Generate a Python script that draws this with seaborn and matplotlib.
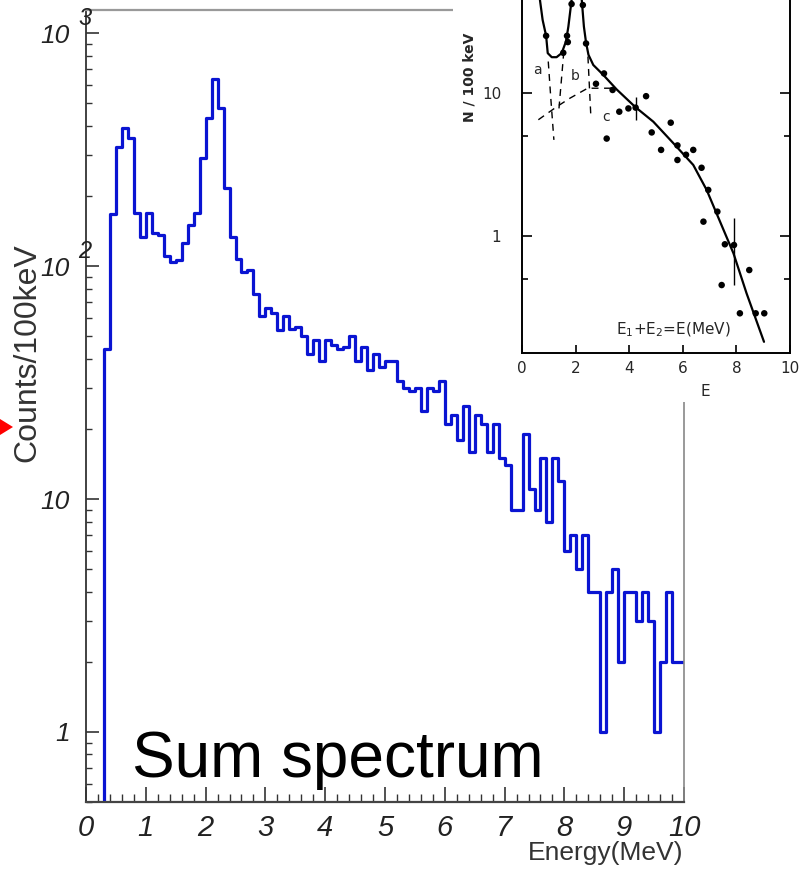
import numpy as np
import pandas as pd
import matplotlib
matplotlib.use('Agg')
import matplotlib.pyplot as plt
import matplotlib.transforms as mtransforms
import seaborn as sns
from matplotlib import font_manager
from matplotlib.patches import Rectangle, Polygon
from matplotlib.ticker import FixedLocator, NullFormatter, NullLocator

sns.set_style('ticks')
plt.rcParams['font.family'] = ['Liberation Sans', 'DejaVu Sans']
plt.rcParams['axes.unicode_minus'] = False

names = {f.name for f in font_manager.fontManager.ttflist}
narrow = 'Liberation Sans Narrow' if 'Liberation Sans Narrow' in names else 'Liberation Sans'

# sum spectrum: counts per 100 keV bin, 0-10 MeV
bin_edges = [round(0.1 * i, 1) for i in range(101)]
counts = [0, 0, 0, 44, 168, 324, 391, 354, 169, 133,
          169, 139, 136, 111, 104, 106, 126, 151, 169, 291,
          431, 635, 477, 216, 133, 107, 94, 96, 76, 61,
          66, 63, 53, 61, 54, 55, 50, 42, 48, 39,
          48, 46, 44, 45, 50, 39, 45, 36, 42, 37,
          39, 39, 32, 30, 29, 30, 24, 30, 29, 32,
          21, 23, 18, 25, 16, 23, 21, 16, 21, 15,
          14, 9, 9, 19, 11, 9, 15, 8, 15, 12,
          6, 7, 5, 7, 4, 4, 1, 4, 5, 2,
          4, 4, 3, 4, 3, 1, 2, 4, 2, 2]

y_ticks = [1, 10, 100, 1000]
y_tick_labels = ['1', '10', '10', '10']
y_superscripts = {1000: '3', 100: '2'}

# inset (old measurement): data points, fitted curve, components
dot_e = [0.90, 1.68, 1.71, 1.54, 1.85, 2.27, 2.39, 2.76, 3.06, 3.38, 3.16,
         3.63, 3.97, 4.24, 4.63, 4.84, 5.19, 5.55, 5.80, 5.80, 6.12, 6.39,
         6.70, 6.95, 6.77, 7.29, 7.57, 7.91, 7.45, 8.48, 8.13, 8.72, 9.04]
dot_n = [25.1, 25.1, 22.7, 19.1, 41.9, 41.2, 22.2, 11.6, 13.7, 10.5, 4.8,
         7.4, 7.8, 7.9, 9.5, 5.3, 4.0, 6.2, 4.3, 3.4, 3.7, 4.0,
         3.0, 2.1, 1.26, 1.48, 0.875, 0.865, 0.454, 0.578, 0.288, 0.288, 0.288]

fit1_e = [0.67, 0.77, 0.90, 0.96, 1.11, 1.29, 1.48, 1.64, 1.73, 1.82, 1.85]
fit1_n = [44.7, 32.4, 25.1, 19.0, 17.8, 17.8, 19.0, 22.9, 29.1, 40.1, 44.7]
fit2_e = [2.23, 2.31, 2.39, 2.48, 2.66, 3.03, 3.53, 4.22, 4.90, 5.65, 6.39,
          6.89, 7.39, 7.89, 8.38, 9.03]
fit2_n = [44.7, 29.1, 22.5, 18.5, 15.7, 13.4, 10.6, 8.0, 6.3, 4.45, 3.14,
          2.10, 1.26, 0.757, 0.397, 0.182]

comp_a_e = [0.98, 1.08, 1.19]
comp_a_n = [16.6, 8.9, 4.7]
comp_b_left_e = [1.38, 1.55]
comp_b_left_n = [7.8, 18.5]
comp_b_right_e = [2.46, 2.57]
comp_b_right_n = [18.0, 6.8]
comp_c_e = [0.61, 1.29, 1.79, 2.45, 3.41]
comp_c_n = [6.5, 8.0, 9.2, 10.8, 10.8]

err_e = [4.24, 7.91]
err_lo = [6.5, 0.454]
err_hi = [9.4, 1.34]

W, H = 800, 873
fig = plt.figure(figsize=(W / 100, H / 100), dpi=100)
fig.patch.set_facecolor('white')

# ---- main spectrum ----
ax = fig.add_axes([86 / W, 1 - 802 / H, 598 / W, 792 / H], zorder=0)
spec = pd.DataFrame({'energy': [e + 0.05 for e in bin_edges[:-1]], 'counts': counts})
sns.histplot(data=spec, x='energy', weights='counts', bins=bin_edges,
             element='step', fill=False, color='#0a14d2', linewidth=2.3, ax=ax)
ax.set_yscale('log')
ax.set_xlim(0, 10)
ax.set_ylim(0.5, 1260)
ax.set_xlabel('')
ax.set_ylabel('')

ax.xaxis.set_major_locator(FixedLocator(range(11)))
ax.xaxis.set_minor_locator(FixedLocator(np.arange(0, 10.01, 0.2)))
y_minor = [m * 10.0 ** k for k in (-1, 0, 1, 2) for m in range(2, 10)]
ax.set_yticks(y_ticks, y_tick_labels)
ax.yaxis.set_minor_locator(FixedLocator([v for v in y_minor if 0.5 <= v <= 1260]))
ax.yaxis.set_minor_formatter(NullFormatter())

ax.tick_params(axis='x', which='major', direction='in', length=11, width=1.2,
               color='#333333', pad=9, labelsize=21, labelcolor='#222222')
ax.tick_params(axis='x', which='minor', direction='in', length=6, width=1.0,
               color='#333333')
ax.tick_params(axis='y', which='major', direction='in', length=9, width=1.2,
               color='#333333', pad=11.5, labelsize=19, labelcolor='#222222')
ax.tick_params(axis='y', which='minor', direction='in', length=4.5, width=1.0,
               color='#333333')
for lbl in ax.get_xticklabels() + ax.get_yticklabels():
    lbl.set_fontstyle('italic')
    lbl.set_family(narrow)

for val, sup in y_superscripts.items():
    ax.annotate(sup, xy=(0, val), xycoords=('axes fraction', 'data'),
                xytext=(-1, 15), textcoords='offset pixels', ha='center',
                va='center', fontsize=17, fontstyle='italic', family=narrow,
                color='#222222')

ax.spines['left'].set_color('#333333')
ax.spines['left'].set_linewidth(1.3)
ax.spines['bottom'].set_color('#444444')
ax.spines['bottom'].set_linewidth(1.6)
ax.spines['top'].set_color('#999999')
ax.spines['top'].set_linewidth(1.6)
ax.spines['right'].set_color('#888888')
ax.spines['right'].set_linewidth(1.2)

fig.text(27 / W, 1 - 353 / H, 'Counts/100keV', rotation=90, ha='center',
         va='center', fontsize=23, color='#333333')
fig.text(683 / W, 1 - 853 / H, 'Energy(MeV)', ha='right', va='center',
         fontsize=19, color='#333333')
fig.text(132 / W, 1 - 777 / H, 'Sum spectrum', ha='left', va='baseline',
         fontsize=46, color='black')

# red pointer at the left edge
fig.patches.append(Polygon([(0, 1 - 419 / H), (13 / W, 1 - 427 / H), (0, 1 - 435 / H)],
                           closed=True, transform=fig.transFigure,
                           facecolor='#ff0000', edgecolor='none', zorder=3))

# ---- inset (pasted older figure) ----
fig.patches.append(Rectangle((453 / W, 1 - 402 / H), (W - 453) / W, 402 / H,
                             transform=fig.transFigure, facecolor='white',
                             edgecolor='none', zorder=1))
ins = fig.add_axes([522 / W, 1 - 353 / H, 268 / W, 353 / H], zorder=2)
ins.set_facecolor('white')
ins.set_yscale('log')

sns.scatterplot(x=dot_e, y=dot_n, color='black', s=22, edgecolor='none', ax=ins)
for ex, ny in [(fit1_e, fit1_n), (fit2_e, fit2_n)]:
    sns.lineplot(x=ex, y=ny, color='black', linewidth=1.6, sort=False, ax=ins)
for ex, ny in [(comp_a_e, comp_a_n), (comp_b_left_e, comp_b_left_n),
               (comp_b_right_e, comp_b_right_n), (comp_c_e, comp_c_n)]:
    sns.lineplot(x=ex, y=ny, color='black', linewidth=1.0, linestyle=(0, (5, 4)),
                 sort=False, ax=ins)
ins.vlines(err_e, err_lo, err_hi, color='black', linewidth=1.0)

ins.set_xlim(0, 10)
ins.set_ylim(0.152, 44.7)
ins.set_xlabel('')
ins.set_ylabel('')
ins.spines['top'].set_visible(False)
for s in ['left', 'right', 'bottom']:
    ins.spines[s].set_color('black')
    ins.spines[s].set_linewidth(1.4)

ins.set_xticks([0, 2, 4, 6, 8, 10], ['0', '2', '4', '6', '8', '10'])
ins.xaxis.set_minor_locator(NullLocator())
ins.set_yticks([1, 10], ['1', '10'])
ins.yaxis.set_minor_locator(FixedLocator([0.5, 5]))
ins.yaxis.set_minor_formatter(NullFormatter())
ins.tick_params(axis='x', which='major', direction='in', length=6, width=1.2,
                pad=6, labelsize=11, color='black')
ins.tick_params(axis='y', which='major', direction='in', length=7, width=1.2,
                right=True, pad=15, labelsize=11, color='black')
ins.tick_params(axis='y', which='minor', direction='in', length=4, width=1.2,
                right=True, color='black')
for lbl in ins.get_xticklabels() + ins.get_yticklabels():
    lbl.set_family('DejaVu Sans')

ins.text(0.59, 14.5, 'a', fontsize=10, family='DejaVu Sans', ha='center', va='center')
ins.text(2.0, 13.1, 'b', fontsize=10, family='DejaVu Sans', ha='center', va='center')
ins.text(3.12, 6.8, 'c', fontsize=10, family='DejaVu Sans', ha='center', va='center')
ins.text(5.63, 0.22, r'E$_1$+E$_2$=E(MeV)', fontsize=11, family='DejaVu Sans',
         ha='center', va='center')
trans = mtransforms.blended_transform_factory(ins.transData, ins.transAxes)
ins.text(6.83, -0.108, 'E', transform=trans, fontsize=11, family='DejaVu Sans',
         ha='center', va='center')
fig.text(469 / W, 1 - 77 / H, 'N / 100 keV', rotation=90, ha='center', va='center',
         fontsize=10, fontweight='bold', family='DejaVu Sans')

fig.savefig('out.png', dpi=100)
